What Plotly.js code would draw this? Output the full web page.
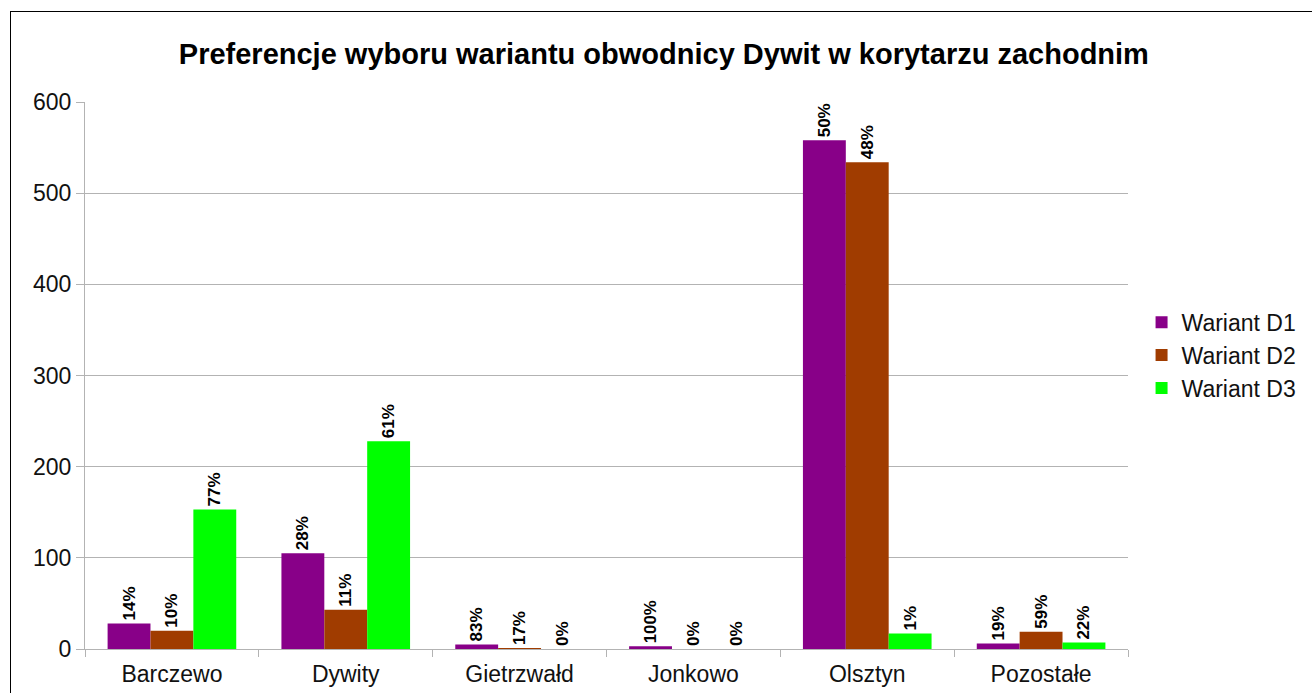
<!DOCTYPE html>
<html>
<head>
<meta charset="utf-8">
<script src="https://cdn.plot.ly/plotly-3.0.1.min.js"></script>
<style>
html,body{margin:0;padding:0;background:#fff;overflow:hidden;}
#chart{position:absolute;left:0;top:0;width:1312px;height:693px;}
#frame{position:absolute;left:10px;top:11px;width:1320px;height:700px;border:1px solid #000;pointer-events:none;}
</style>
</head>
<body>
<div id="chart"></div>
<div id="frame"></div>
<script>
const categories = ["Barczewo", "Dywity", "Gietrzwałd", "Jonkowo", "Olsztyn", "Pozostałe"];
const seriesNames = ["Wariant D1", "Wariant D2", "Wariant D3"];
const d1 = [28, 105, 5, 3, 558, 6];
const d2 = [20, 43, 1, 0, 534, 19];
const d3 = [153, 228, 0, 0, 17, 7];
const d1Labels = ["14%", "28%", "83%", "100%", "50%", "19%"];
const d2Labels = ["10%", "11%", "17%", "0%", "48%", "59%"];
const d3Labels = ["77%", "61%", "0%", "0%", "1%", "22%"];
const colors = ["#880088", "#a03c00", "#00ff00"];
const yTicks = [0, 100, 200, 300, 400, 500, 600];

const values = [d1, d2, d3];
const labels = [d1Labels, d2Labels, d3Labels];
const traces = values.map((v, i) => ({
  type: 'bar',
  name: seriesNames[i],
  x: categories,
  y: v,
  text: labels[i],
  textposition: 'outside',
  textangle: -90,
  cliponaxis: false,
  textfont: {family: 'Liberation Sans, Arial, sans-serif', size: 17, color: '#000', weight: 'bold'},
  marker: {color: colors[i], line: {width: 0}},
  hoverinfo: 'x+y+name'
}));

const layout = {
  width: 1312, height: 693,
  margin: {l: 85, r: 184, t: 102, b: 44, autoexpand: false},
  paper_bgcolor: '#fff', plot_bgcolor: '#fff',
  font: {family: 'Liberation Sans, Arial, sans-serif', color: '#111'},
  title: {
    text: '<b>Preferencje wyboru wariantu obwodnicy Dywit w korytarzu zachodnim</b>',
    font: {family: 'Liberation Sans, Arial, sans-serif', size: 29, color: '#000'},
    x: 0.506, xanchor: 'center', y: 0.923, yanchor: 'middle'
  },
  barmode: 'group',
  bargap: 0.26,
  bargroupgap: 0,
  showlegend: true,
  legend: {
    x: 1.013, xanchor: 'left', y: 0.537, yanchor: 'middle',
    font: {size: 23, color: '#111'},
    itemwidth: 30, tracegroupgap: 0, traceorder: 'normal'
  },
  xaxis: {
    type: 'category',
    showline: true, linecolor: '#b3b3b3', linewidth: 1,
    ticks: 'outside', tickson: 'boundaries', ticklen: 7, tickcolor: '#b3b3b3',
    ticklabelstandoff: 4,
    tickfont: {size: 23, color: '#111'},
    showgrid: false, fixedrange: true
  },
  yaxis: {
    range: [0, 600],
    tickvals: yTicks,
    ticktext: yTicks.map(String),
    showline: true, linecolor: '#b3b3b3', linewidth: 1,
    ticks: 'outside', ticklen: 8, tickcolor: '#b3b3b3',
    tickfont: {size: 23, color: '#111'},
    showgrid: true, gridcolor: '#b3b3b3', gridwidth: 1,
    zeroline: false, fixedrange: true
  }
};

Plotly.newPlot('chart', traces, layout, {displayModeBar: false, staticPlot: true});
</script>
</body>
</html>
